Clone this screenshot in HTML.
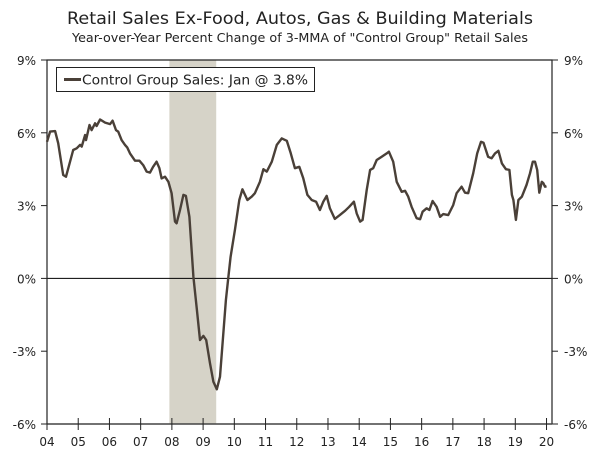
<!DOCTYPE html>
<html><head><meta charset="utf-8"><style>
html,body{margin:0;padding:0;background:#fff;}
svg{display:block;font-family:"DejaVu Sans","Liberation Sans",sans-serif;}
</style></head><body>
<svg id="chart" width="600" height="453" viewBox="0 0 600 453">
<text x="300" y="24" text-anchor="middle" font-size="17" fill="#222" textLength="466" lengthAdjust="spacingAndGlyphs">Retail Sales Ex-Food, Autos, Gas &amp; Building Materials</text>
<text x="300" y="42" text-anchor="middle" font-size="12" fill="#222" textLength="456" lengthAdjust="spacingAndGlyphs">Year-over-Year Percent Change of 3-MMA of "Control Group" Retail Sales</text>
<g id="plot"></g>
</svg>
<script>
const recession = [2007.92, 2009.42];
const yTicks = [9, 6, 3, 0, -3, -6];
const yTickLabels = ["9%", "6%", "3%", "0%", "-3%", "-6%"];
const years = [2004,2005,2006,2007,2008,2009,2010,2011,2012,2013,2014,2015,2016,2017,2018,2019,2020];
const yearLabels = ["04","05","06","07","08","09","10","11","12","13","14","15","16","17","18","19","20"];
const dates = [2004.0,2004.1,2004.26,2004.36,2004.52,2004.61,2004.84,2004.95,2005.06,2005.11,2005.22,2005.25,2005.36,2005.43,2005.54,2005.59,2005.70,2005.86,2006.02,2006.10,2006.21,2006.28,2006.39,2006.50,2006.57,2006.66,2006.82,2006.96,2007.08,2007.19,2007.30,2007.40,2007.51,2007.60,2007.67,2007.78,2007.89,2007.99,2008.10,2008.15,2008.26,2008.37,2008.45,2008.56,2008.69,2008.80,2008.90,2009.01,2009.10,2009.22,2009.33,2009.44,2009.54,2009.73,2009.81,2009.88,2010.02,2010.16,2010.26,2010.42,2010.56,2010.66,2010.82,2010.93,2011.04,2011.20,2011.36,2011.52,2011.68,2011.81,2011.94,2012.08,2012.21,2012.34,2012.48,2012.62,2012.74,2012.85,2012.96,2013.06,2013.22,2013.38,2013.55,2013.68,2013.83,2013.92,2014.03,2014.11,2014.24,2014.35,2014.45,2014.56,2014.72,2014.88,2014.95,2015.09,2015.20,2015.36,2015.47,2015.57,2015.68,2015.84,2015.95,2016.03,2016.16,2016.25,2016.35,2016.48,2016.59,2016.69,2016.85,2017.01,2017.12,2017.28,2017.39,2017.49,2017.65,2017.78,2017.90,2017.98,2018.13,2018.24,2018.35,2018.46,2018.57,2018.70,2018.81,2018.89,2018.94,2019.02,2019.10,2019.21,2019.36,2019.47,2019.56,2019.63,2019.70,2019.77,2019.85,2019.90,2019.95,2020.0];
const values = [5.63,6.05,6.07,5.57,4.26,4.19,5.29,5.36,5.5,5.43,5.91,5.70,6.32,6.11,6.39,6.28,6.55,6.42,6.36,6.5,6.11,6.05,5.70,5.5,5.40,5.15,4.85,4.85,4.67,4.40,4.36,4.60,4.81,4.54,4.12,4.19,3.98,3.51,2.34,2.27,2.82,3.44,3.40,2.54,0.07,-1.30,-2.54,-2.37,-2.54,-3.50,-4.26,-4.57,-4.05,-0.89,0.07,0.89,1.99,3.23,3.67,3.23,3.37,3.51,3.98,4.50,4.40,4.81,5.50,5.77,5.67,5.15,4.54,4.60,4.12,3.44,3.23,3.16,2.82,3.16,3.40,2.89,2.45,2.61,2.79,2.95,3.16,2.68,2.34,2.41,3.64,4.47,4.54,4.88,5.01,5.15,5.22,4.81,3.98,3.57,3.61,3.37,2.95,2.48,2.44,2.75,2.89,2.82,3.19,2.95,2.54,2.65,2.61,3.02,3.51,3.78,3.53,3.51,4.33,5.15,5.63,5.59,5.01,4.95,5.15,5.26,4.74,4.50,4.47,3.44,3.23,2.41,3.23,3.37,3.85,4.33,4.81,4.81,4.47,3.53,3.98,3.92,3.78,3.8];

const L=47,R=552,T=60,B=424;
const xS=v=>47+(v-2004)*31.22;
const yS=v=>T+(9-v)*(B-T)/15;
const NS="http://www.w3.org/2000/svg";
const g=document.getElementById('plot');
function mk(tag,attrs){const e=document.createElementNS(NS,tag);for(const k in attrs)e.setAttribute(k,attrs[k]);g.appendChild(e);return e;}

let rect=mk('rect',{x:xS(recession[0]),y:T,width:xS(recession[1])-xS(recession[0]),height:B-T,fill:'#d6d3c8'});



let zl=mk('line',{x1:L,x2:R,y1:yS(0),y2:yS(0),stroke:'#000','stroke-width':1});



let frame=mk('path',{d:`M${L},${B}V${T}H${R}V${B}`,fill:'none',stroke:'#222','stroke-width':1.2});


let xa=mk('line',{x1:L,x2:R,y1:B,y2:B,stroke:'#444','stroke-width':1.5});



yTicks.forEach((t,i)=>{
  const y=yS(t);
  mk('line',{x1:L-6,x2:L,y1:y,y2:y,stroke:'#222'});
  mk('line',{x1:R,x2:R+6,y1:y,y2:y,stroke:'#222'});
  let a=mk('text',{x:L-11,y:y+5,'text-anchor':'end','font-size':12,fill:'#222'});a.textContent=yTickLabels[i];
  
  
  let b=mk('text',{x:R+12,y:y+5,'text-anchor':'start','font-size':12,fill:'#222'});b.textContent=yTickLabels[i];
  
  
});
years.forEach((yr,i)=>{
  const x=xS(yr);
  mk('line',{x1:x,x2:x,y1:B-6,y2:B+6,stroke:'#222'});
  let t=mk('text',{x:x,y:446,'text-anchor':'middle','font-size':12,fill:'#222'});t.textContent=yearLabels[i];
  
  
});

let d=dates.map((dt,i)=>(i?'L':'M')+xS(dt).toFixed(1)+','+yS(values[i]).toFixed(1)).join('');
let line=mk('path',{d:d,fill:'none',stroke:'#4a4038','stroke-width':2.4,'stroke-linejoin':'round'});



let lb=mk('rect',{x:56.5,y:67.5,width:258,height:24,fill:'#fff',stroke:'#222','stroke-width':1});


let ll=mk('line',{x1:64,x2:81,y1:79.5,y2:79.5,stroke:'#4a4038','stroke-width':3});


let lt=mk('text',{x:82,y:84.5,'font-size':13,fill:'#222',textLength:226,lengthAdjust:'spacingAndGlyphs'});lt.textContent='Control Group Sales: Jan @ 3.8%';


</script>
</body></html>
